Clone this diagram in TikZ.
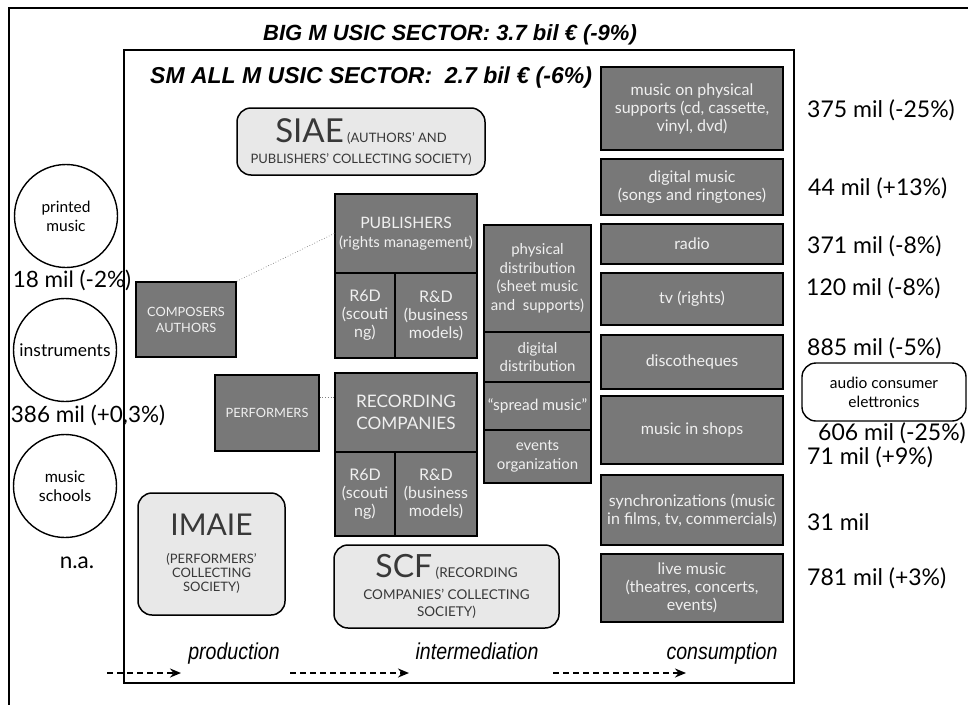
\documentclass[tikz,border=0pt]{standalone}
\usepackage{fontspec}
\setmainfont{Lato}
\newfontfamily\titlefont{Liberation Sans}
\newfontfamily\stagefont[FakeStretch=0.85]{Liberation Sans}
\usetikzlibrary{arrows.meta,calc}
\definecolor{boxgray}{gray}{0.47}
\definecolor{boxtext}{gray}{0.94}
\definecolor{lightfill}{gray}{0.91}
\definecolor{softtext}{gray}{0.22}
\newcommand\fs[2]{\fontsize{#1}{#2}\selectfont}
\begin{document}
\begin{tikzpicture}[x=1pt,y=-1pt,
  darkbox/.style={draw=black, line width=1.5pt, fill=boxgray, text=boxtext, align=center, inner sep=0pt, font=\fs{16}{18}},
  lightbox/.style={draw=black, line width=1.5pt, fill=lightfill, text=softtext, rounded corners=14pt, align=center, inner sep=0pt, font=\fs{13}{14}},
  market/.style={draw=black, line width=1.4pt, circle, minimum size=103pt, inner sep=0pt, align=center},
  value/.style={anchor=west, inner sep=0pt, font=\fs{23}{26}},
  flowarrow/.style={line width=2pt, dash pattern=on 6pt off 4pt, -{Stealth[length=11pt,width=9pt]}},
  link/.style={draw=gray, line width=0.7pt, dotted},
  stagelabel/.style={font=\stagefont\itshape\fs{23}{26}, inner sep=0pt, anchor=base},
  sectortitle/.style={font=\titlefont\bfseries\itshape, inner sep=0pt, anchor=base west}
]
\useasboundingbox (0,0) rectangle (968,704);
\clip (0,0) rectangle (968,704);
% frames
\draw[line width=1.4pt] (9,720) -- (9,8) -- (990,8);
\draw[line width=1.6pt] (124,50) rectangle (794,683);
\node[sectortitle] (bigtitle) at (263,40) {\fs{22}{25}BIG M USIC SECTOR: 3.7 bil € (-9\%)};
\node[sectortitle] (smalltitle) at (150,83) {\fs{23}{25}SM ALL M USIC SECTOR:\ \ 2.7 bil € (-6\%)};

% circles
\node[market, font=\fs{15.5}{19}] (printed) at (66,216) {printed\\music};
\node[market, font=\fs{17.5}{20}] (instr) at (65,350) {instruments};
\node[market, font=\fs{16}{19.5}] (schools) at (65,486) {music\\schools};
\node[inner sep=0pt, font=\fs{22.5}{26}] (vprinted) at (72,280) {18 mil (-2\%)};
\node[inner sep=0pt, font=\fs{22.5}{26}] (vinstr) at (88,415) {386 mil (+0,3\%)};
\node[inner sep=0pt, font=\fs{22.5}{26}] (vschools) at (77,563) {n.a.};

% production
\node[darkbox, font=\fs{12.8}{16}, minimum width=100pt, minimum height=75pt] (composers) at (186,319.5) {COMPOSERS\\AUTHORS};
\node[darkbox, font=\fs{12.8}{16}, minimum width=104pt, minimum height=76pt] (performers) at (267,413) {PERFORMERS};

% publishers
\node[darkbox, font=\fs{15}{19}, minimum width=142pt, minimum height=79pt] (publishers) at (406,233.5) {{\fs{15.7}{19}PUBLISHERS}\\(rights management)};
\node[darkbox, minimum width=60pt, minimum height=85pt] (pubscout) at (365,315.5) {R6D\\(scouti\\ng)};
\node[darkbox, minimum width=82pt, minimum height=85pt] (pubbiz) at (436,315.5) {R\&D\\(business\\models)};
% recording
\node[darkbox, font=\fs{17.2}{22}, minimum width=142pt, minimum height=79pt] (recording) at (406,412.5) {RECORDING\\COMPANIES};
\node[darkbox, minimum width=60pt, minimum height=84pt] (recscout) at (365,494) {R6D\\(scouti\\ng)};
\node[darkbox, minimum width=82pt, minimum height=84pt] (recbiz) at (436,494) {R\&D\\(business\\models)};

% distribution
\node[darkbox, font=\fs{15}{18.5}, minimum width=107pt, minimum height=107pt] (physical) at (537.5,278.5) {physical\\distribution\\(sheet music\\and\ \ supports)};
\node[darkbox, font=\fs{15}{18.5}, minimum width=107pt, minimum height=50pt] (digital) at (537.5,357) {digital\\distribution};
\node[darkbox, font=\fs{15.5}{18.5}, minimum width=107pt, minimum height=48pt] (spread) at (537.5,406) {“spread music”};
\node[darkbox, font=\fs{15}{18.5}, minimum width=107pt, minimum height=53pt] (events) at (537.5,456.5) {events\\organization};

% consumption
\node[darkbox, minimum width=182pt, minimum height=83pt] (cphys) at (692,108.5) {music on physical\\supports (cd, cassette,\\vinyl, dvd)};
\node[darkbox, minimum width=182pt, minimum height=56pt] (cdigital) at (692,187) {digital music\\(songs and ringtones)};
\node[darkbox, minimum width=182pt, minimum height=40pt] (cradio) at (692,244) {radio};
\node[darkbox, minimum width=182pt, minimum height=52pt] (ctv) at (692,299) {tv (rights)};
\node[darkbox, minimum width=182pt, minimum height=54pt] (cdisco) at (692,362) {discotheques};
\node[darkbox, minimum width=182pt, minimum height=68pt] (cshops) at (692,430) {music in shops};
\node[darkbox, minimum width=182pt, minimum height=70pt] (csync) at (692,510) {synchronizations (music\\in films, tv, commercials)};
\node[darkbox, minimum width=182pt, minimum height=68pt] (clive) at (692,588) {live music\\(theatres, concerts,\\events)};

% values
\node[value] (v1) at (807,110) {375 mil (-25\%)};
\node[value] (v2) at (808,188) {44 mil (+13\%)};
\node[value] (v3) at (807,246) {371 mil (-8\%)};
\node[value] (v4) at (806,288) {120 mil (-8\%)};
\node[value] (v5) at (807,348) {885 mil (-5\%)};
\node[draw=black, line width=1.4pt, rounded corners=14pt, minimum width=164pt, minimum height=58pt, align=center, inner sep=0pt, font=\fs{15.5}{19}] (audio) at (884,392) {audio consumer\\elettronics};
\node[value, anchor=east] (v6) at (966,433) {606 mil (-25\%)};
\node[value] (v7) at (807,457) {71 mil (+9\%)};
\node[value] (v8) at (807,522) {31 mil};
\node[value] (v9) at (807,578) {781 mil (+3\%)};

% collecting societies
\node[lightbox, minimum width=248pt, minimum height=67pt] (siae) at (361,141.5) {{\fs{33}{34}SIAE}\ (AUTHORS' AND\\[7pt]PUBLISHERS' COLLECTING SOCIETY)};
\node[lightbox, minimum width=147pt, minimum height=122pt] (imaie) at (211.5,554) {{\fs{30}{32}IMAIE}\\[14pt](PERFORMERS'\\COLLECTING\\SOCIETY)};
\node[lightbox, font=\fs{13.5}{15}, minimum width=225pt, minimum height=83pt] (scf) at (446.5,586.5) {{\fs{32}{33}SCF}\ (RECORDING\\[7pt]COMPANIES' COLLECTING\\[2pt]SOCIETY)};

% links
\draw[link] (composers.north east) -- (publishers.west);
\coordinate (perfout) at ($(performers.north east)!0.3!(performers.south east)$);
\draw[link] (perfout) -- (perfout -| recording.west);

% stages
\node[stagelabel] (production) at (234,659) {production};
\node[stagelabel] (intermediation) at (477,659) {intermediation};
\node[stagelabel] (consumption) at (722,659) {consumption};
\coordinate (a1s) at (107,673); \coordinate (a1e) at (181,673);
\coordinate (a2s) at (290,673); \coordinate (a2e) at (409,673);
\coordinate (a3s) at (553,673); \coordinate (a3e) at (686,673);
\draw[flowarrow] (a1s) -- (a1e);
\draw[flowarrow] (a2s) -- (a2e);
\draw[flowarrow] (a3s) -- (a3e);
\end{tikzpicture}
\end{document}
